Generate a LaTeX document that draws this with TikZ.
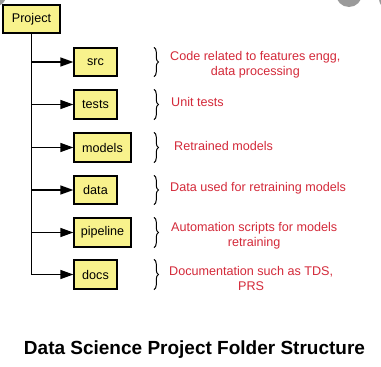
\documentclass[tikz,border=0pt]{standalone}
\usepackage{fontspec}
\setmainfont{Liberation Sans}
\usetikzlibrary{arrows.meta,decorations.pathreplacing}
\definecolor{boxfill}{HTML}{F8F28C}
\definecolor{notered}{HTML}{D42A3A}
\definecolor{uigray}{HTML}{9A9A9A}
\begin{document}
\begin{tikzpicture}[x=1pt,y=-1pt,
  folder/.style={draw=black,line width=1.3pt,fill=boxfill,inner sep=0pt,
    font=\fontsize{12.6}{15}\selectfont,text=black},
  conn/.style={line width=1.4pt,-{Triangle[length=13pt,width=9pt]}},
  trunk/.style={line width=1.4pt},
  bracestyle/.style={line width=1pt,decorate,decoration={brace,amplitude=4.5pt}},
  note/.style={anchor=west,align=center,text=notered,inner sep=0pt,
    font=\fontsize{12.6}{15}\selectfont},
  title/.style={font=\bfseries\fontsize{19}{22}\selectfont,inner sep=0pt}]
\useasboundingbox (0,0) rectangle (381,367);
\fill[white] (0,0) rectangle (381,367);
% screenshot UI remnants
\fill[uigray] (-4,-4) circle (10);
\fill[uigray] (349,-6) circle (13);
\fill[uigray] (393,-2) circle (14);
% folders
\node[folder,minimum width=57pt,minimum height=28pt] (project) at (31.5,19) {Project};
\node[folder,minimum width=43pt,minimum height=28pt] (src) at (95.5,62) {src};
\node[folder,minimum width=43pt,minimum height=29pt] (tests) at (95.5,104.5) {tests};
\node[folder,minimum width=57pt,minimum height=29pt] (models) at (102.5,147.5) {models};
\node[folder,minimum width=43pt,minimum height=28pt] (data) at (95.5,190) {data};
\node[folder,minimum width=57pt,minimum height=29pt] (pipeline) at (102.5,232.5) {pipeline};
\node[folder,minimum width=43pt,minimum height=29pt] (docs) at (95.5,274.5) {docs};
% connectors
\draw[trunk] (project.south) -- (project.south |- docs.west);
\foreach \n in {src,tests,models,data,pipeline,docs}
  \draw[conn] (project.south |- \n.west) -- (\n.west);
% braces
\coordinate (bx) at (154,0);
\foreach \n in {src,tests,models,data,pipeline,docs}
  \draw[bracestyle] (bx |- \n.north) -- (bx |- \n.south);
% notes
\node[note] (nsrc) at (170,64.5) {Code related to features engg,\\data processing};
\node[note] (ntests) at (171,102) {Unit tests};
\node[note] (nmodels) at (174,146) {Retrained models};
\node[note] (ndata) at (170,188) {Data used for retraining models};
\node[note] (npipe) at (171,236) {Automation scripts for models\\retraining};
\node[note] (ndocs) at (169,278.5) {Documentation such as TDS,\\PRS};
% title
\node[title] (ttl) at (194.5,350) {Data Science Project Folder Structure};
\end{tikzpicture}
\end{document}
